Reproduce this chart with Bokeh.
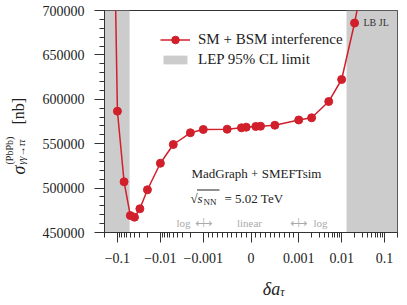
import numpy as np
from bokeh.plotting import figure
from bokeh.layouts import row, column
from bokeh.models import (FixedTicker, Label, Range1d, SingleIntervalTicker, Legend, LegendItem,
                          BasicTickFormatter, CustomJSTickFormatter, BoxAnnotation)
from bokeh.embed import file_html
from bokeh.resources import INLINE

# ---------------- data ----------------
delta_a = [-0.2, -0.1, -0.07, -0.05, -0.04, -0.03, -0.02, -0.01, -0.005, -0.002,
           -0.001, -0.0005, -0.0002, -0.0001, 0.0001, 0.0002, 0.0005, 0.001,
           0.002, 0.005, 0.01, 0.02, 0.03]
sigma_nb = [1430000, 586600, 507100, 469100, 467200, 476700, 498100, 528000,
            549100, 562300, 566000, 566300, 567900, 568600, 569400, 569700,
            570800, 576700, 579200, 597500, 622300, 685900, 729300]
lep_low = -0.052
lep_high = 0.013
x_limits = [-0.2, 0.2]
y_limits = [450000, 700000]
xtick_values = [-0.1, -0.01, -0.001, 0.0, 0.001, 0.01, 0.1]
xtick_labels = ["\u22120.1", "\u22120.01", "\u22120.001", "0", "0.001", "0.01", "0.1"]

# ---------------- symlog (linthresh 1e-3, linscale 1) ----------------
LT = 1e-3
LS = 1.0 / (1.0 - 0.1)


def symlog(x):
    x = np.asarray(x, dtype=float)
    a = np.abs(x)
    return np.where(a <= LT, x / LT * LS,
                    np.sign(x) * (LS + np.log10(np.maximum(a, LT) / LT)))


xlo, xhi = [float(v) for v in symlog(x_limits)]
ylo, yhi = y_limits

minor_raw = []
for s in (-1, 1):
    for k in range(1, 10):
        minor_raw.append(s * k * 1e-4)
    for e in (-3, -2, -1):
        for k in range(2, 10):
            v = k * 10.0 ** e
            if v <= 0.2 + 1e-12:
                minor_raw.append(s * v)

RED = "#d11f2b"
FONT = "Liberation Serif"
TXT = "#222222"

W, H = 399, 297          # whole layout
LW = 32                  # left strip holding the y-axis title
MH = 272                 # height of the main figure
FL, FR, FT, FB = 104.0, 397.0, 10.0, 232.0   # frame box in layout pixels

# ---------------- main figure ----------------
p = figure(width=W - LW, height=MH, output_backend="svg", toolbar_location=None,
           x_range=Range1d(xlo, xhi), y_range=Range1d(ylo, yhi),
           min_border_left=int(FL - LW), min_border_right=int(W - FR),
           min_border_top=int(FT), min_border_bottom=int(MH - FB))
p.xgrid.visible = False
p.ygrid.visible = False
p.outline_line_color = "#333333"
p.outline_line_width = 1
p.background_fill_color = "white"

band = p.quad(left=[xlo, float(symlog(lep_high))], right=[float(symlog(lep_low)), xhi],
              bottom=ylo, top=yhi, fill_color="#cccccc", line_color=None)

xs = symlog(delta_a)
ln = p.line(xs, sigma_nb, line_color=RED, line_width=1.5)
sc = p.scatter(xs, sigma_nb, size=8, fill_color=RED, line_color=RED)

xt_u = [float(v) for v in symlog(xtick_values)]
p.xaxis.ticker = FixedTicker(ticks=xt_u, minor_ticks=[float(v) for v in symlog(minor_raw)])
p.xaxis.formatter = CustomJSTickFormatter(args=dict(pos=xt_u, lab=xtick_labels), code="""
let best = 0, bd = 1e9;
for (let i = 0; i < pos.length; i++) { const d = Math.abs(pos[i] - tick); if (d < bd) { bd = d; best = i; } }
return lab[best];
""")
p.yaxis.ticker = SingleIntervalTicker(interval=50000, num_minor_ticks=5)
p.yaxis.formatter = BasicTickFormatter(use_scientific=False)

for ax in (p.xaxis[0], p.yaxis[0]):
    ax.major_tick_in = 0
    ax.major_tick_out = 10
    ax.minor_tick_in = 0
    ax.minor_tick_out = 5
    ax.axis_line_color = "#333333"
    ax.major_tick_line_color = "#333333"
    ax.minor_tick_line_color = "#333333"
    ax.major_label_text_font = FONT
    ax.major_label_text_font_size = "14px"
    ax.major_label_text_color = TXT
    ax.major_label_standoff = 10


def style_legend(lg, gh, lh):
    lg.border_line_color = None
    lg.background_fill_alpha = 0
    lg.padding = 0
    lg.margin = 0
    lg.spacing = 0
    lg.glyph_width = 30
    lg.glyph_height = gh
    lg.label_height = lh
    lg.label_standoff = 8
    lg.label_text_font = FONT
    lg.label_text_font_size = "15px"
    lg.label_text_color = TXT
    p.add_layout(lg)


lg1 = Legend(items=[LegendItem(label="SM + BSM interference", renderers=[ln, sc])],
             location=(56, 183))
style_legend(lg1, 19, 19)
lg2 = Legend(items=[LegendItem(label="LEP 95% CL limit", renderers=[band])],
             location=(56, 164))
style_legend(lg2, 11, 17)


def ux(wx):
    return xlo + (wx - FL) / (FR - FL) * (xhi - xlo)


def vy(wy):
    return yhi - (wy - FT) / (FB - FT) * (yhi - ylo)


def plab(text, wx, wy, size, align="left", baseline="middle", style="normal",
         color=TXT, font=FONT):
    # label inside the main frame, placed by layout pixels
    p.add_layout(Label(x=ux(wx), y=vy(wy), text=text, text_font=font, text_font_size=size,
                       text_align=align, text_baseline=baseline,
                       text_font_style=style, text_color=color))


plab("MadGraph + SMEFTsim", 191, 173, "13px")
plab("\u221a", 190, 198, "13px", baseline="alphabetic")
plab("s", 197, 198, "13px", baseline="alphabetic", style="italic")
plab("NN", 203, 201, "9px", baseline="alphabetic")
plab("= 5.02 TeV", 224, 198, "13px", baseline="alphabetic")
# vinculum of the square root
p.add_layout(BoxAnnotation(left=ux(196.5), right=ux(219), top=vy(189.0), bottom=vy(190.0),
                           fill_color=TXT, fill_alpha=1, line_color=None, level="overlay"))
plab("LB JL", 363, 22, "10px", color="#333333")

GR = "#aaaaaa"
ARROW = "\u27f7"
plab("log", 176, 222, "11px", color=GR)
plab(ARROW, 203, 222, "12px", align="center", color=GR, font="DejaVu Sans")
plab("|", 203, 222, "8px", align="center", color=GR, font="DejaVu Sans")
plab("linear", 249, 222, "11px", align="center", color=GR)
plab(ARROW, 298, 222, "12px", align="center", color=GR, font="DejaVu Sans")
plab("|", 298, 222, "8px", align="center", color=GR, font="DejaVu Sans")
plab("log", 327, 222, "11px", align="right", color=GR)


def blank(w, h, x0, y0):
    f = figure(width=w, height=h, output_backend="svg", toolbar_location=None,
               x_range=Range1d(x0, x0 + w), y_range=Range1d(y0 + h, y0),
               x_axis_type=None, y_axis_type=None, min_border=0,
               min_border_left=0, min_border_right=0, min_border_top=0, min_border_bottom=0)
    f.outline_line_color = None
    f.background_fill_color = "white"
    return f


def tlab(fig, text, x, y, size, align="left", baseline="alphabetic", style="normal", angle=0.0):
    fig.add_layout(Label(x=x, y=y, text=text, text_font=FONT, text_font_size=size,
                         text_align=align, text_baseline=baseline,
                         text_font_style=style, text_color=TXT, angle=angle))


# ---------------- x-axis title strip ----------------
xl = blank(W - LW, H - MH, LW, MH)
tlab(xl, "\u03b4a", 252, 288, "18px", align="right", style="italic")
tlab(xl, "\u03c4", 252, 291, "12px", style="italic")

# ---------------- y-axis title strip (rotated) ----------------
yl = blank(LW, H, 0, 0)
A = np.pi / 2
tlab(yl, "\u03c3", 18, 174, "18px", style="italic", angle=A)
tlab(yl, "\u03b3\u03b3\u2192\u03c4\u03c4", 21, 164, "10px", style="italic", angle=A)
tlab(yl, "(PbPb)", 9, 164, "10px", angle=A)
tlab(yl, "[nb]", 18, 124, "16px", angle=A)

layout = row(yl, column(p, xl))
open("out.html", "w").write(file_html(layout, INLINE))
